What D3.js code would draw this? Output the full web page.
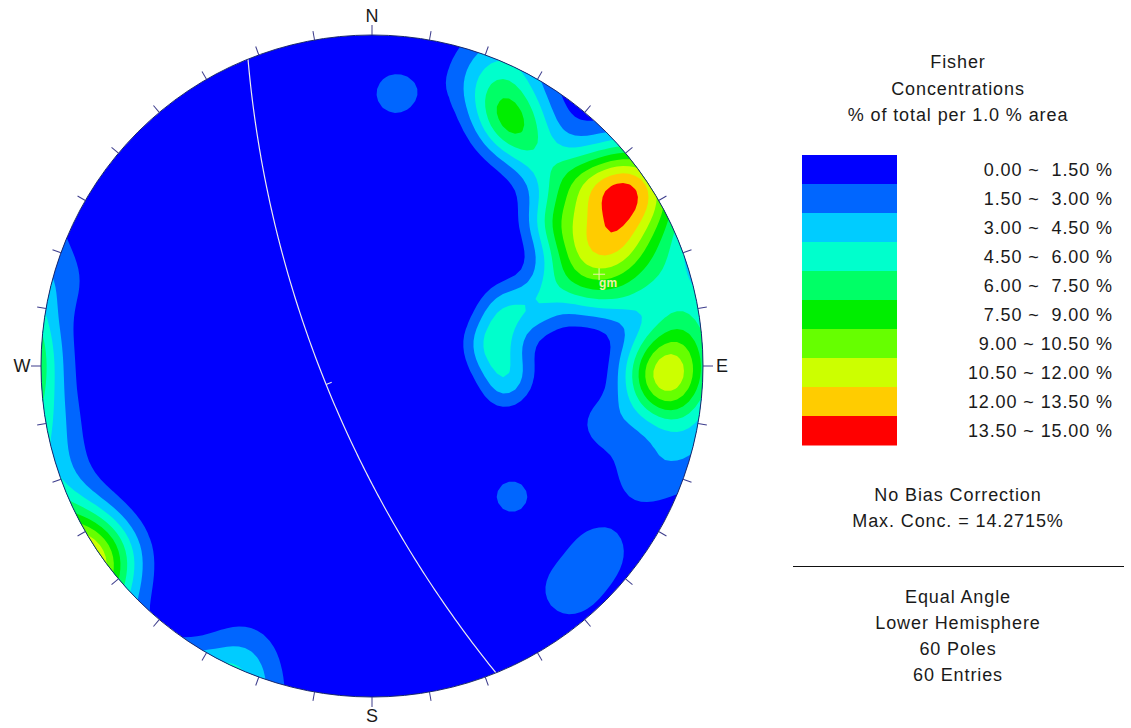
<!DOCTYPE html>
<meta charset="utf-8">
<script src="https://d3js.org/d3.v7.min.js"></script>
<div id="my_dataviz"></div>
<style>
  body { margin: 0; background: #fff; }
  text { font-family: "Liberation Sans", Arial, sans-serif; fill: #1a1a1a; }
</style>
<script>

// contour intervals, % of total per 1.0 % area
var levels = [0, 1.5, 3, 4.5, 6, 7.5, 9, 10.5, 12, 13.5, 15]
var levelColors = ["#0000ff", "#0066ff", "#00ccff", "#00ffcc", "#00ff66",
                   "#00ee00", "#66ff00", "#ccff00", "#ffcc00", "#ff0000"]
var levelLabels = ["0.00 ~  1.50 %", "1.50 ~  3.00 %", "3.00 ~  4.50 %", "4.50 ~  6.00 %",
                   "6.00 ~  7.50 %", "7.50 ~  9.00 %", "9.00 ~ 10.50 %", "10.50 ~ 12.00 %",
                   "12.00 ~ 13.50 %", "13.50 ~ 15.00 %"]

// poles, [trend, plunge] in degrees (60 entries)
var poles = [
  // NE set
  [63,9],[53,9],[68,9],[48,9],[61,11],[64,12],[50,13],[59,5],[55,5],
  [50,5],[60,15],[63,18],[53,18],[58,0],[63,0],[53,0],[56,5],[71,2],
  [235,2],[50,21],[67,30],[72,22],[75,12],[62,25],[72,16],[56,20],[66,20],
  // N set
  [28,8],[32,9],[29,11],[26,6],[21,4],[36,12],[42,13],
  // S edge
  [204,3],
  // E set
  [91,7],[91,11],[91,2],[87,9],[95,9],[87,4],[95,4],[97,6],
  [78,1],[83,2],[105,0],[112,7],[104,18],
  // steep set
  [65,41],[69,46],[77,52],[79,45],[88,51],[100,46],[72,35],[92,44],
  // scattered
  [133,30],[129,7],[139,6],[5,11]
]
var meanPole = [68, 17]   // "gm"

var cardinals = ["N", "E", "S", "W"]
var titleLines = ["Fisher", "Concentrations", "% of total per 1.0 % area"]
var infoLines = ["No Bias Correction", "Max. Conc. = 14.2715%"]
var footerLines = ["Equal Angle", "Lower Hemisphere", "60 Poles", "60 Entries"]

var width = 1131, height = 728
var cx = 372, cy = 366, R = 331
var fisherK = 120

var svg = d3.select("#my_dataviz")
  .append("svg")
    .attr("width", width)
    .attr("height", height)

// equal angle, lower hemisphere: lon = 180 - trend, lat = plunge
var projection = d3.geoStereographic()
    .rotate([0, -90])
    .scale(R)
    .translate([cx, cy])
    .clipAngle(90)
    .precision(0.2)

function toLonLat(p) { return [180 - p[0], p[1]] }
var poleCoords = poles.map(toLonLat)

// fisher counting (axial)
function density(ll) {
  var s = 0
  for (var i = 0; i < poleCoords.length; i++) {
    var c = Math.abs(Math.cos(d3.geoDistance(ll, poleCoords[i])))
    s += Math.exp(fisherK * (c - 1))
  }
  return s * (100 / poles.length) * (fisherK / 100)
}

var step = 6, pad = 3
var x0 = cx - R - pad * step, y0 = cy - R - pad * step
var nx = Math.ceil((2 * R + 2 * pad * step) / step) + 1
var ny = nx
var values = new Array(nx * ny)
for (var j = 0; j < ny; j++) {
  for (var i = 0; i < nx; i++) {
    values[j * nx + i] = density(projection.invert([x0 + i * step, y0 + j * step]))
  }
}

var contours = d3.contours()
    .size([nx, ny])
    .thresholds(levels.slice(1, -1))(values)

var gridPath = d3.geoPath(d3.geoIdentity().scale(step).translate([x0 - step / 2, y0 - step / 2]))

svg.append("clipPath").attr("id", "net")
  .append("circle").attr("cx", cx).attr("cy", cy).attr("r", R)

var net = svg.append("g").attr("clip-path", "url(#net)")
net.append("circle")
    .attr("cx", cx).attr("cy", cy).attr("r", R)
    .attr("fill", levelColors[0])
net.selectAll("path.band")
  .data(contours)
  .enter()
  .append("path")
    .attr("class", "band")
    .attr("d", gridPath)
    .attr("fill", function(d, i) { return levelColors[i + 1] })

// plane normal to the mean pole
var gc = d3.geoCircle().center(toLonLat(meanPole)).radius(90).precision(1)()
net.append("path")
    .datum({type: "LineString", coordinates: gc.coordinates[0]})
    .attr("d", d3.geoPath(projection))
    .attr("fill", "none")
    .attr("stroke", "#ececec")
    .attr("stroke-width", 1.2)

var dipPt = projection(toLonLat([meanPole[0] + 180, 90 - meanPole[1]]))
var gmPt = projection(toLonLat(meanPole))
var ang = Math.atan2(gmPt[1] - dipPt[1], gmPt[0] - dipPt[0])
net.append("line")
    .attr("x1", dipPt[0]).attr("y1", dipPt[1])
    .attr("x2", dipPt[0] + 6 * Math.cos(ang)).attr("y2", dipPt[1] + 6 * Math.sin(ang))
    .attr("stroke", "#ececec")
    .attr("stroke-width", 1.2)

// mean pole marker
net.append("path")
    .attr("d", "M" + (gmPt[0] - 6) + "," + gmPt[1] + "h12M" + gmPt[0] + "," + (gmPt[1] - 6) + "v12")
    .attr("stroke", "#eef0a8")
    .attr("stroke-width", 1)
net.append("text")
    .attr("x", gmPt[0]).attr("y", gmPt[1] + 13)
    .style("fill", "#eef0a8")
    .style("font-size", "12px")
    .style("font-weight", "bold")
    .text("gm")

// primitive and ticks
svg.append("circle")
    .attr("cx", cx).attr("cy", cy).attr("r", R)
    .attr("fill", "none")
    .attr("stroke", "#1a2a6c")
    .attr("stroke-width", 1)

svg.selectAll("line.tick")
  .data(d3.range(0, 360, 10))
  .enter()
  .append("line")
    .attr("class", "tick")
    .attr("transform", function(d) { return "translate(" + cx + "," + cy + ") rotate(" + d + ")" })
    .attr("x1", 0).attr("y1", -R)
    .attr("x2", 0).attr("y2", function(d) { return d % 90 ? -R - 9 : -R - 10 })
    .attr("stroke", "#3c3c8c")
    .attr("stroke-width", 1)

svg.selectAll("text.card")
  .data(cardinals)
  .enter()
  .append("text")
    .attr("class", "card")
    .attr("x", function(d, i) { return cx + (R + 19) * Math.sin(i * Math.PI / 2) })
    .attr("y", function(d, i) { return cy - (R + 19) * Math.cos(i * Math.PI / 2) })
    .attr("text-anchor", "middle")
    .attr("dominant-baseline", "central")
    .style("font-size", "18px")
    .text(function(d) { return d })

// legend
var lx = 958
svg.selectAll("text.title")
  .data(titleLines)
  .enter()
  .append("text")
    .attr("x", lx).attr("y", function(d, i) { return 68 + i * 26.5 })
    .attr("text-anchor", "middle")
    .style("font-size", "18px")
    .style("letter-spacing", "0.9px")
    .text(function(d) { return d })

var boxY = d3.scaleBand().domain(d3.range(levelColors.length)).range([155, 445])
svg.selectAll("rect.key")
  .data(levelColors)
  .enter()
  .append("rect")
    .attr("x", 802).attr("width", 95)
    .attr("y", function(d, i) { return boxY(i) })
    .attr("height", boxY.bandwidth() + 0.5)
    .attr("fill", function(d) { return d })

svg.selectAll("text.key")
  .data(levelLabels)
  .enter()
  .append("text")
    .attr("x", 1113)
    .attr("y", function(d, i) { return boxY(i) + boxY.bandwidth() / 2 + 6.5 })
    .attr("text-anchor", "end")
    .style("font-size", "18px")
    .style("letter-spacing", "0.9px")
    .style("white-space", "pre")
    .text(function(d) { return d })

svg.selectAll("text.info")
  .data(infoLines)
  .enter()
  .append("text")
    .attr("x", lx).attr("y", function(d, i) { return 501 + i * 26 })
    .attr("text-anchor", "middle")
    .style("font-size", "18px")
    .style("letter-spacing", "0.9px")
    .text(function(d) { return d })

svg.append("line")
    .attr("x1", 793).attr("x2", 1124)
    .attr("y1", 566.5).attr("y2", 566.5)
    .attr("stroke", "#111")
    .attr("stroke-width", 1.2)

svg.selectAll("text.foot")
  .data(footerLines)
  .enter()
  .append("text")
    .attr("x", lx).attr("y", function(d, i) { return 603 + i * 26 })
    .attr("text-anchor", "middle")
    .style("font-size", "18px")
    .style("letter-spacing", "0.9px")
    .text(function(d) { return d })

</script>
